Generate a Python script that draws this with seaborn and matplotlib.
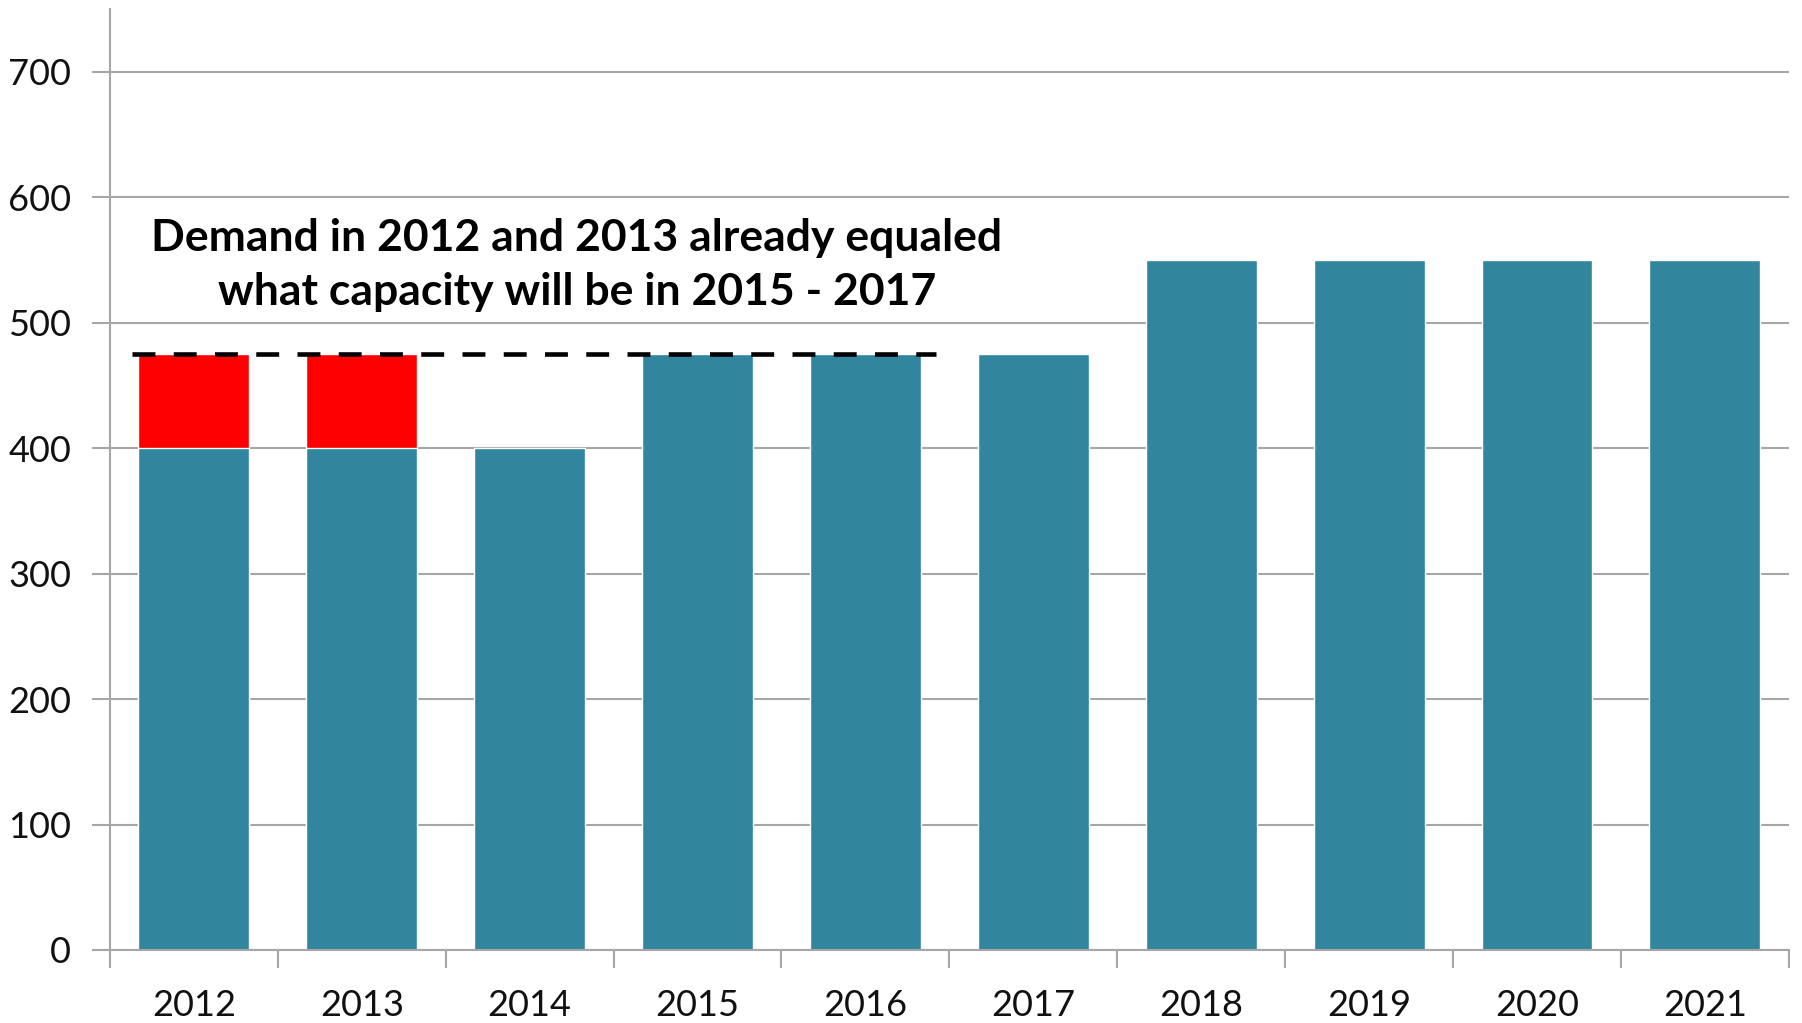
import numpy as np
import pandas as pd
import matplotlib
matplotlib.use('Agg')
import matplotlib.pyplot as plt
import seaborn as sns

years = ['2012', '2013', '2014', '2015', '2016', '2017', '2018', '2019', '2020', '2021']
capacity = [400, 400, 400, 475, 475, 475, 550, 550, 550, 550]
demand = [475, 475, np.nan, np.nan, np.nan, np.nan, np.nan, np.nan, np.nan, np.nan]
demand_level = 475
note = 'Demand in 2012 and 2013 already equaled\nwhat capacity will be in 2015 - 2017'

sns.set_style('white')
plt.rcParams['font.family'] = ['Lato', 'DejaVu Sans']

df = pd.DataFrame({'year': years, 'capacity': capacity, 'demand': demand})

fig = plt.figure(figsize=(18.02, 10.23), dpi=100)
ax = fig.add_axes([0.061, 0.0714, 0.9317, 0.9196])

grid_col = '#a6a6a6'
ax.set_axisbelow(True)
ax.yaxis.grid(True, color=grid_col, lw=1.5)

# demand drawn first, capacity on top -> red shows only the excess
sns.barplot(data=df, x='year', y='demand', order=years, color='#ff0000',
            saturation=1, width=0.66, ax=ax)
sns.barplot(data=df, x='year', y='capacity', order=years, color='#31859c',
            saturation=1, width=0.66, ax=ax)

ax.plot([-0.37, 4.42], [demand_level, demand_level], color='black', lw=3.3,
        linestyle=(0, (5, 4)), zorder=5)
ax.text(2.28, 546, note, ha='center', va='center', fontsize=32,
        fontweight='bold', linespacing=1.42, color='black', zorder=6)

ax.set_xlim(-0.5, 9.5)
ax.set_ylim(0, 750)
ax.set_yticks(range(0, 701, 100))
ax.set_xlabel('')
ax.set_ylabel('')

ax.tick_params(axis='y', which='major', length=13, width=1.5, color=grid_col,
               labelsize=26, pad=15, left=True, labelcolor='#111111')
ax.tick_params(axis='x', which='major', length=0, labelsize=26, pad=28,
               labelcolor='#111111')
ax.set_xticks(np.arange(-0.5, 10, 1), minor=True)
ax.tick_params(axis='x', which='minor', length=13, width=1.5, color=grid_col,
               bottom=True)

for s in ['top', 'right']:
    ax.spines[s].set_visible(False)
for s in ['left', 'bottom']:
    ax.spines[s].set_color(grid_col)
    ax.spines[s].set_linewidth(1.5)

fig.savefig('out.png', dpi=100)
